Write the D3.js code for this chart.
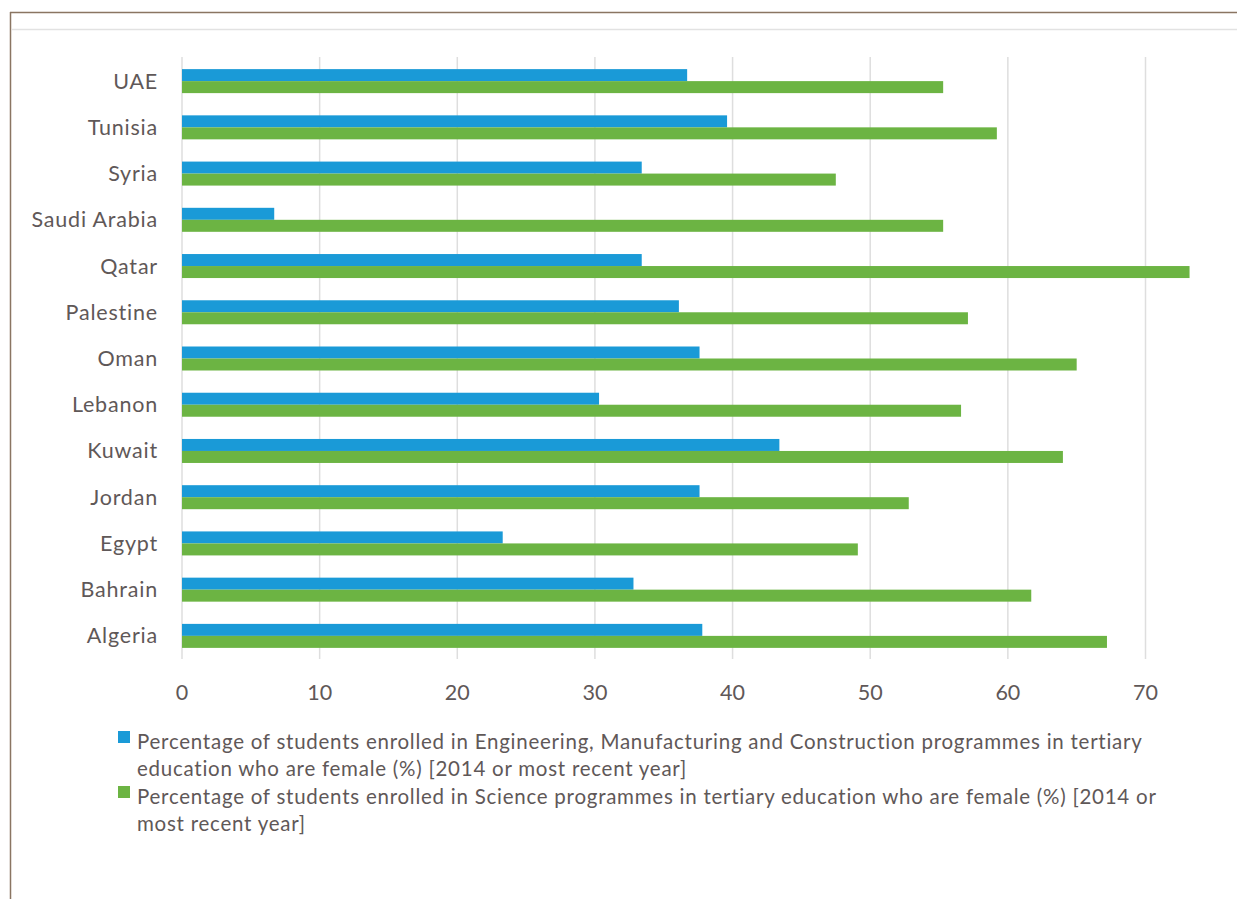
<!DOCTYPE html>
<html>
<head>
<meta charset="utf-8">
<script src="https://cdn.jsdelivr.net/npm/d3@7"></script>
<style>
  body { margin: 0; background: #fff; }
  text { font-family: Lato, "Open Sans", sans-serif; fill: #5f5858; }
</style>
</head>
<body>
<div id="chart"></div>
<script>
const countries = ["UAE", "Tunisia", "Syria", "Saudi Arabia", "Qatar", "Palestine", "Oman",
    "Lebanon", "Kuwait", "Jordan", "Egypt", "Bahrain", "Algeria"];
const engineering = [36.7, 39.6, 33.4, 6.7, 33.4, 36.1, 37.6, 30.3, 43.4, 37.6, 23.3, 32.8, 37.8];
const science = [55.3, 59.2, 47.5, 55.3, 73.2, 57.1, 65.0, 56.6, 64.0, 52.8, 49.1, 61.7, 67.2];
const xTicks = [0, 10, 20, 30, 40, 50, 60, 70];
const legendLines = [
    ["Percentage of students enrolled in Engineering, Manufacturing and Construction programmes in tertiary",
     "education who are female (%) [2014 or most recent year]"],
    ["Percentage of students enrolled in Science programmes in tertiary education who are female (%) [2014 or",
     "most recent year]"]
];
const colors = ["#1a9ad7", "#6cb443"];

const width = 1237, height = 899;
const svg = d3.select("#chart").append("svg")
    .attr("width", width)
    .attr("height", height);

// frame
svg.append("line").attr("x1", 10).attr("x2", width).attr("y1", 12.5).attr("y2", 12.5)
    .attr("stroke", "#8a7562").attr("stroke-width", 1.5);
svg.append("line").attr("x1", 10.5).attr("x2", 10.5).attr("y1", 12).attr("y2", height)
    .attr("stroke", "#8a7562").attr("stroke-width", 1.5);
svg.append("line").attr("x1", 12).attr("x2", width).attr("y1", 29.5).attr("y2", 29.5)
    .attr("stroke", "#e2e2e2").attr("stroke-width", 1.5);

const x = d3.scaleLinear().domain([0, 70]).range([182, 1145.5]);
const y = d3.scaleBand().domain(countries).range([58, 659]).paddingInner(0).paddingOuter(0);
const barH = 12;

// gridlines
svg.append("g").selectAll("line").data(xTicks).enter().append("line")
    .attr("x1", d => x(d)).attr("x2", d => x(d))
    .attr("y1", 57).attr("y2", 659)
    .attr("stroke", "#dedede").attr("stroke-width", 1.5);

const groups = svg.append("g").selectAll("g").data(countries).enter().append("g")
    .attr("transform", d => "translate(0," + (y(d) + y.bandwidth() / 2) + ")");

groups.append("rect")
    .attr("x", x(0))
    .attr("y", -barH)
    .attr("width", (d, i) => x(engineering[i]) - x(0))
    .attr("height", barH)
    .attr("fill", colors[0]);

groups.append("rect")
    .attr("x", x(0))
    .attr("y", 0)
    .attr("width", (d, i) => x(science[i]) - x(0))
    .attr("height", barH)
    .attr("fill", colors[1]);

groups.append("text")
    .attr("x", 158)
    .attr("y", 0)
    .attr("dy", "0.35em")
    .attr("text-anchor", "end")
    .style("font-size", "21.5px")
    .style("letter-spacing", "0.8px")
    .text(d => d);

// x axis labels
svg.append("g").selectAll("text").data(xTicks).enter().append("text")
    .attr("x", d => x(d))
    .attr("y", 700)
    .attr("text-anchor", "middle")
    .style("font-size", "21.5px")
    .text(d => d);

// legend
const legend = svg.append("g");
legendLines.forEach((lines, i) => {
    const top = 742 + i * 55;
    legend.append("rect")
        .attr("x", 118).attr("y", top - 11)
        .attr("width", 12).attr("height", 12)
        .attr("fill", colors[i]);
    lines.forEach((t, j) => {
        legend.append("text")
            .attr("x", 137)
            .attr("y", top + 7 + j * 27)
            .style("font-size", "20.5px")
            .style("letter-spacing", "0.75px")
            .text(t);
    });
});
</script>
</body>
</html>
